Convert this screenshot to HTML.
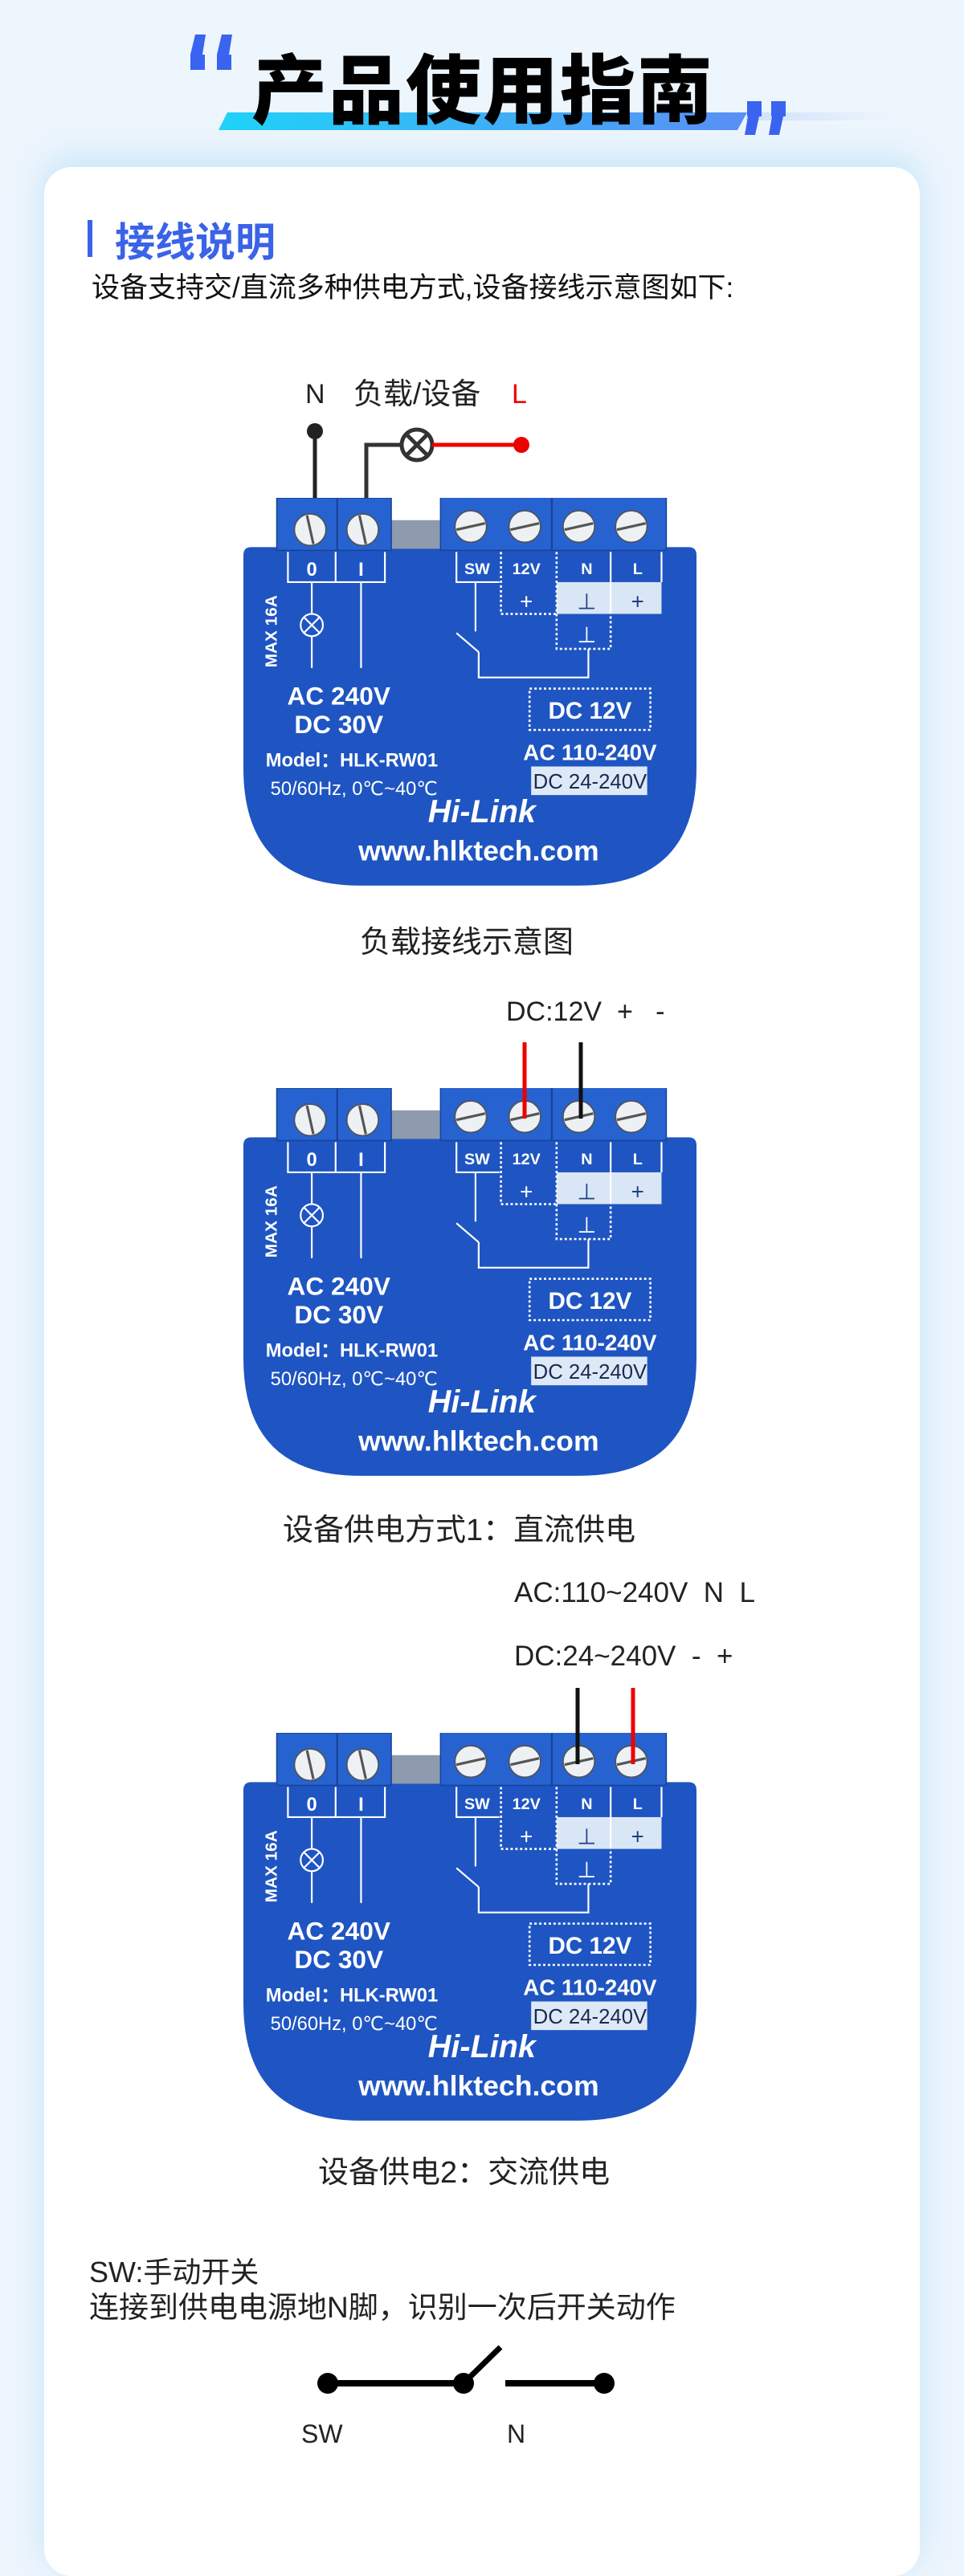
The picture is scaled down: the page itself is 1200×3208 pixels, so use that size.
<!DOCTYPE html>
<html><head><meta charset="utf-8"><style>
html,body{margin:0;padding:0}
body{width:1200px;height:3105px;background:#edf5fd;position:relative;overflow:hidden;font-family:"Liberation Sans","Noto Sans CJK SC",sans-serif}
.abs{position:absolute;white-space:nowrap}
.card{position:absolute;left:55px;top:208px;width:1090px;height:3000px;background:#fff;border-radius:34px;box-shadow:0 -10px 40px rgba(120,200,240,.35)}
.t{color:#222;font-size:32px;line-height:1}
</style></head><body>
<svg class="abs" style="left:0;top:0" width="1200" height="200">
<defs><linearGradient id="bg1" x1="0" x2="1"><stop offset="0" stop-color="#1fd3f7"/><stop offset="1" stop-color="#5a8ff5"/></linearGradient>
<linearGradient id="bg2" x1="0" x2="1"><stop offset="0" stop-color="#cfe0fb"/><stop offset="1" stop-color="#edf5fd"/></linearGradient></defs>
<polygon points="930,140 1110,140 1108,150 928,150" fill="url(#bg2)"/>
<polygon points="283,140 930,140 918,162 272,162" fill="url(#bg1)"/>
<g fill="#3a63f0">
<polygon points="243,43 256,43 252,68 255,68 255,87 237,87 237,68"/>
<polygon points="276,43 289,43 285,68 288,68 288,87 270,87 270,68"/>
<polygon points="930,126 948,126 948,145 945,145 940,168 927,168 931,145 930,145"/>
<polygon points="960,126 978,126 978,145 975,145 970,168 957,168 961,145 960,145"/>
</g>
<text x="601" y="146" text-anchor="middle" font-family="Noto Sans CJK SC, sans-serif" font-weight="900" font-size="94" fill="#000" letter-spacing="2">产品使用指南</text>
</svg>
<div class="card"></div>
<div class="abs" style="left:109px;top:274px;width:6px;height:46px;background:#3a63e8"></div>
<div class="abs" style="left:143px;top:270px;font-size:50px;font-weight:bold;color:#3a63e8;font-family:'Noto Sans CJK SC',sans-serif;line-height:56px">接线说明</div>
<div class="abs t" style="left:114px;top:341px;font-size:35px;color:#111">设备支持交/直流多种供电方式,设备接线示意图如下:</div>

<!-- diagram 1 labels -->
<div class="abs t" style="left:380px;top:474px;font-size:34px">N</div>
<div class="abs t" style="left:440px;top:472px;font-size:37px">负载/设备</div>
<div class="abs t" style="left:637px;top:474px;font-size:34px;color:#e00">L</div>
<svg class="abs" style="left:0;top:500px" width="1200" height="130">
<line x1="392" y1="37" x2="392" y2="130" stroke="#222" stroke-width="5"/>
<circle cx="392" cy="37" r="10" fill="#222"/>
<polyline points="456,130 456,54 499,54" fill="none" stroke="#333" stroke-width="5"/>
<circle cx="519" cy="54" r="19" fill="none" stroke="#333" stroke-width="5"/>
<line x1="506" y1="41" x2="532" y2="67" stroke="#333" stroke-width="5"/><line x1="532" y1="41" x2="506" y2="67" stroke="#333" stroke-width="5"/>
<line x1="538" y1="54" x2="649" y2="54" stroke="#e00" stroke-width="5"/>
<circle cx="649" cy="54" r="10" fill="#e00"/>
</svg>

<svg width="0" height="0" style="position:absolute"><defs>
<g id="dev">
<path d="M5,31 H280 Q285,31 285,36 V170 Q285,244 211,244 H74 Q0,244 0,170 V36 Q0,31 5,31 Z" fill="#1f55c2"/>
<rect x="93" y="14" width="31" height="18" fill="#8e9aad"/>
<rect x="21" y="0" width="72" height="33" fill="#2763d0" stroke="#17449a" stroke-width=".8"/>
<line x1="59" y1="0" x2="59" y2="33" stroke="#17449a" stroke-width="1.2"/>
<rect x="124" y="-2" width="142" height="35" fill="#2763d0" stroke="#17449a" stroke-width=".8"/>
<line x1="194" y1="-2" x2="194" y2="33" stroke="#17449a" stroke-width="1.2"/>
<g fill="#eef1f4" stroke="#4a5568" stroke-width="1">
<circle cx="42" cy="20" r="10"/><circle cx="75" cy="20" r="10"/>
<circle cx="143" cy="18" r="10"/><circle cx="177" cy="18" r="10"/><circle cx="211" cy="18" r="10"/><circle cx="244" cy="18" r="10"/></g>
<g stroke="#555" stroke-width="1.6">
<line x1="40" y1="11" x2="44" y2="29"/><line x1="73" y1="11" x2="77" y2="29"/>
<line x1="134" y1="20" x2="152" y2="16"/><line x1="168" y1="20" x2="186" y2="16"/><line x1="202" y1="20" x2="220" y2="16"/><line x1="235" y1="20" x2="253" y2="16"/></g>
<rect x="197" y="53" width="66" height="20" fill="#d9e6f6"/>
<g stroke="#fff" stroke-width="1.1" fill="none">
<polyline points="28,34 28,53 89,53 89,34"/><line x1="58" y1="34" x2="58" y2="53"/>
<line x1="43" y1="53" x2="43" y2="73"/><line x1="43" y1="87" x2="43" y2="107"/>
<circle cx="43" cy="80" r="7"/><line x1="38" y1="75" x2="48" y2="85"/><line x1="48" y1="75" x2="38" y2="85"/>
<line x1="74" y1="53" x2="74" y2="107"/>
<polyline points="134,34 134,53 161,53"/><line x1="146" y1="53" x2="146" y2="84"/>
<line x1="134" y1="85" x2="148" y2="97"/><polyline points="148,97 148,113 217,113 217,95"/>
<line x1="231" y1="34" x2="231" y2="73"/><line x1="263" y1="34" x2="263" y2="53"/>
</g>
<g stroke="#fff" stroke-width="1.3" fill="none" stroke-dasharray="1.5 1.5">
<polyline points="162,34 162,73 197,73"/><polyline points="197,34 197,95 231,95 231,73"/>
<rect x="180" y="120" width="76" height="26"/></g>
<g font-family="Liberation Sans Narrow, Liberation Sans, sans-serif" font-weight="bold" fill="#fff" text-anchor="middle">
<text x="43" y="49" font-size="12">0</text><text x="74" y="49" font-size="12">I</text>
<text x="147" y="48" font-size="10">SW</text><text x="178" y="48" font-size="10">12V</text>
<text x="216" y="48" font-size="10">N</text><text x="248" y="48" font-size="10">L</text>
<text x="178" y="70" font-size="14" font-weight="normal">+</text>
<text x="216" y="70" font-size="14" font-weight="normal" fill="#1f3f80">⊥</text>
<text x="248" y="70" font-size="14" font-weight="normal" fill="#1f3f80">+</text>
<text x="216" y="91" font-size="14" font-weight="normal">⊥</text>
<text transform="translate(21,84) rotate(-90)" font-size="10.5">MAX 16A</text>
<text x="60" y="130" font-size="16">AC 240V</text><text x="60" y="148" font-size="16">DC 30V</text>
<text x="218" y="139" font-size="15">DC 12V</text>
<text x="218" y="165" font-size="14">AC 110-240V</text>
<text x="150" y="204" font-size="20" font-style="italic" font-weight="900">Hi-Link</text>
<text x="148" y="228" font-size="18" font-family="Liberation Sans, sans-serif">www.hlktech.com</text>
</g>
<rect x="181" y="169" width="73" height="18" fill="#dde9f7"/>
<text x="218" y="183" font-size="13" text-anchor="middle" fill="#1a2a50" font-family="Liberation Sans Narrow, Liberation Sans, sans-serif">DC 24-240V</text>
<g font-family="Liberation Sans, sans-serif" font-weight="bold" fill="#fff">
<text x="14" y="169" font-size="12">Model：HLK-RW01</text>
<text x="17" y="187" font-size="12" font-weight="normal">50/60Hz, 0℃~40℃</text></g>
</g></defs></svg>

<svg class="abs" style="left:303px;top:620px" width="564" height="483" viewBox="0 0 285 244"><use href="#dev"/></svg>
<div class="abs t" style="left:448px;top:1155px;font-size:38px">负载接线示意图</div>

<div class="abs t" style="left:630px;top:1243px;font-size:34px">DC:12V&nbsp;&nbsp;+&nbsp;&nbsp;&nbsp;-</div>
<svg class="abs" style="left:303px;top:1355px" width="564" height="483" viewBox="0 0 285 244"><use href="#dev"/></svg>
<svg class="abs" style="left:0;top:1298px" width="1200" height="100">
<line x1="653" y1="0" x2="653" y2="95" stroke="#e00" stroke-width="5"/>
<line x1="723" y1="0" x2="723" y2="95" stroke="#111" stroke-width="5"/></svg>
<div class="abs t" style="left:352px;top:1887px;font-size:38px">设备供电方式1：直流供电</div>

<div class="abs t" style="left:640px;top:1966px;font-size:35px">AC:110~240V&nbsp;&nbsp;N&nbsp;&nbsp;L</div>
<div class="abs t" style="left:640px;top:2045px;font-size:35px">DC:24~240V&nbsp;&nbsp;-&nbsp;&nbsp;+</div>
<svg class="abs" style="left:303px;top:2158px" width="564" height="483" viewBox="0 0 285 244"><use href="#dev"/></svg>
<svg class="abs" style="left:0;top:2102px" width="1200" height="100">
<line x1="719" y1="0" x2="719" y2="95" stroke="#111" stroke-width="5"/>
<line x1="788" y1="0" x2="788" y2="95" stroke="#e00" stroke-width="5"/></svg>
<div class="abs t" style="left:396px;top:2687px;font-size:38px">设备供电2：交流供电</div>

<div class="abs t" style="left:111px;top:2812px;font-size:36px">SW:手动开关</div>
<div class="abs t" style="left:111px;top:2855px;font-size:37px">连接到供电电源地N脚，识别一次后开关动作</div>
<svg class="abs" style="left:0;top:2900px" width="1200" height="100">
<line x1="408" y1="68" x2="577" y2="68" stroke="#000" stroke-width="8"/>
<circle cx="408" cy="68" r="13"/><circle cx="577" cy="68" r="13"/>
<line x1="577" y1="68" x2="623" y2="23" stroke="#000" stroke-width="7"/>
<line x1="629" y1="68" x2="752" y2="68" stroke="#000" stroke-width="8"/>
<circle cx="752" cy="68" r="13"/></svg>
<div class="abs t" style="left:375px;top:3015px">SW</div>
<div class="abs t" style="left:631px;top:3015px">N</div>
</body></html>
